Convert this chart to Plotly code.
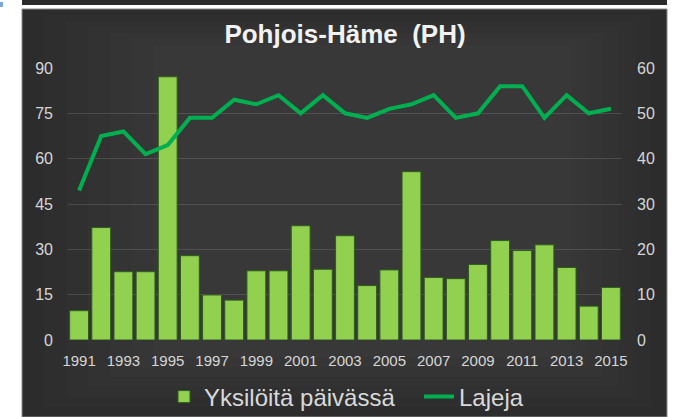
import plotly.graph_objects as go

years = list(range(1991, 2016))
yksiloita = [9.7, 37.2, 22.6, 22.6, 87.1, 27.9, 14.9, 13.2, 22.9, 22.9, 37.8, 23.4,
             34.5, 18.0, 23.2, 55.7, 20.7, 20.3, 25.0, 32.9, 29.6, 31.5, 24.0, 11.2, 17.4]
lajeja = [33, 45, 46, 41, 43, 49, 49, 53, 52, 54, 50, 54,
          50, 49, 51, 52, 54, 49, 50, 56, 56, 49, 54, 50, 51]
x_ticks = list(range(1991, 2016, 2))
left_ticks = [0, 15, 30, 45, 60, 75, 90]
right_ticks = [0, 10, 20, 30, 40, 50, 60]

W, H = 673, 417
L, R, T, B = 68, 622, 68, 340  # plot area in px


def px(x):
    return (x - L) / (R - L)


def py(y):
    return (B - y) / (B - T)


fig = go.Figure()
fig.add_trace(go.Bar(
    x=years, y=yksiloita, name="Yksilöitä päivässä",
    marker=dict(color="#92D050", line=dict(color="#2f5e1c", width=1)),
    yaxis="y",
))
fig.add_trace(go.Scatter(
    x=years, y=lajeja, name="Lajeja", mode="lines",
    line=dict(color="#00B050", width=4),
    yaxis="y2",
))

shapes = [
    dict(type="rect", xref="paper", yref="paper", x0=px(22), x1=px(667), y0=py(5), y1=py(0),
         fillcolor="#2b2b2b", line=dict(width=0), layer="below"),
    dict(type="rect", xref="paper", yref="paper", x0=px(22), x1=px(667), y0=py(417), y1=py(9),
         fillcolor="#2c2c2c", line=dict(color="#8a8a8a", width=1), layer="below"),
]
# soft lighter centre of the panel
for i in range(1, 7):
    shapes.append(dict(type="rect", xref="paper", yref="paper",
                       x0=px(22 + 22 * i), x1=px(667 - 16 * i),
                       y0=py(417 - 10 * i), y1=py(9 + 6 * i),
                       fillcolor="rgba(255,255,255,0.012)", line=dict(width=0), layer="below"))
shapes.append(dict(type="rect", xref="paper", yref="paper", x0=px(0), x1=px(3), y0=py(7), y1=py(2),
                   fillcolor="#7aa6d8", line=dict(width=0), layer="below"))

tickfont = dict(family="Liberation Sans, Arial, sans-serif", size=15, color="#d6d6d6")

fig.update_layout(
    width=W, height=H,
    margin=dict(l=L, r=W - R, t=T, b=H - B, pad=0, autoexpand=False),
    paper_bgcolor="white",
    plot_bgcolor="rgba(0,0,0,0)",
    shapes=shapes,
    bargap=0.15,
    title=dict(text="Pohjois-Häme\u00a0\u00a0(PH)", x=0.5, xref="paper", xanchor="center",
               y=1 - 34 / H, yanchor="middle",
               font=dict(family="Liberation Sans, Arial, sans-serif", size=26, color="#f2f2f2",
                         weight="bold")),
    xaxis=dict(range=[1990.5, 2015.5], tickvals=x_ticks, ticktext=[str(v) for v in x_ticks],
               showgrid=False, zeroline=False, showline=False, ticks="",
               tickfont=tickfont, ticklabelstandoff=10),
    yaxis=dict(range=[0, 90], tickvals=left_ticks, showgrid=True,
               gridcolor="rgba(255,255,255,0.13)", gridwidth=1, zeroline=False,
               ticks="", tickfont=dict(tickfont, size=16), ticklabelstandoff=14),
    yaxis2=dict(range=[0, 60], tickvals=right_ticks, overlaying="y", side="right",
                showgrid=False, zeroline=False, ticks="",
                tickfont=dict(tickfont, size=16), ticklabelstandoff=14),
    legend=dict(orientation="h", x=px(674), xanchor="right", y=py(397), yanchor="middle",
                font=dict(family="Liberation Sans, Arial, sans-serif", size=24, color="#d9d9d9"),
                bgcolor="rgba(0,0,0,0)", entrywidthmode="pixels", entrywidth=210,
                traceorder="normal"),
    showlegend=True,
)

fig.write_html("out.html", config={"displayModeBar": False},
               post_script="document.body.style.margin='0';")
